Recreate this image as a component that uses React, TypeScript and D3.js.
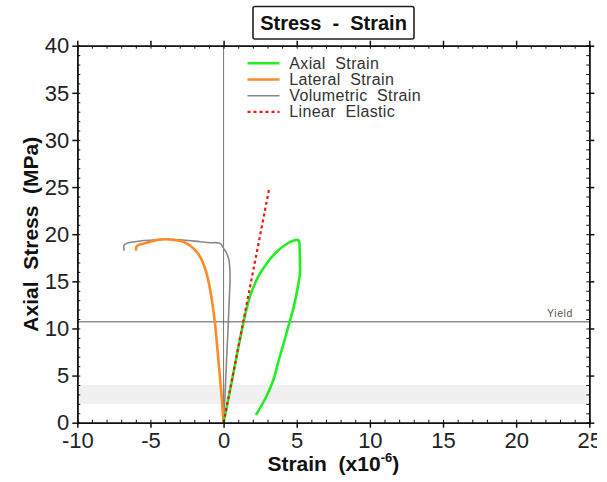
import { useEffect, useRef } from 'react';
import * as d3 from 'd3';

// Axial strain curve (x10^-6, MPa)
const axialX = [0, 0.35, 0.7, 1.05, 1.35, 1.8, 2.37, 2.95, 3.63, 4.31, 4.75, 5.0, 5.15, 5.2, 5.22, 5.22, 5.0, 4.75, 4.49, 4.04, 3.75, 3.4, 2.9, 2.21];
const axialY = [0, 2.7, 5.5, 8.3, 10.55, 13.37, 15.5, 16.9, 18.14, 18.96, 19.3, 19.4, 19.3, 18.5, 17.0, 15.85, 13.8, 12.0, 10.55, 8.06, 6.5, 4.53, 2.7, 0.82];

const lateralX = [0, -0.12, -0.26, -0.42, -0.59, -0.85, -1.16, -1.5, -1.84, -2.3, -2.75, -3.4, -4.0, -4.5, -5.03, -5.5, -5.9, -5.97, -5.99];
const lateralY = [0, 2.5, 5, 7.8, 10.55, 13.5, 15.85, 17.3, 18.14, 18.8, 19.2, 19.4, 19.46, 19.4, 19.2, 19.0, 18.78, 18.6, 18.25];

const volumetricX = [0, 0.1, 0.2, 0.32, 0.4, 0.44, 0.42, 0.36, 0.21, 0, -0.25, -0.93, -1.6, -2.75, -3.89, -4.8, -5.71, -6.62, -6.8, -6.8];
const volumetricY = [0, 3, 6.5, 10.55, 13.5, 15.1, 16.5, 17.3, 17.97, 18.5, 19.03, 19.1, 19.2, 19.38, 19.46, 19.38, 19.28, 19.03, 18.85, 18.25];

const linearX = [0, 3.1];
const linearY = [0, 24.7];

const yieldStress = 10.7;
const bandRange = [2, 4];

const xTicks = [-10, -5, 0, 5, 10, 15, 20, 25];
const yTicks = [0, 5, 10, 15, 20, 25, 30, 35, 40];

const legendItems = ['Axial  Strain', 'Lateral  Strain', 'Volumetric  Strain', 'Linear  Elastic'];

const StressStrain = () => {
    const ref = useRef<SVGSVGElement>(null);

    useEffect(() => {
        if (!ref.current) return;
        const width = 607;
        const height = 482;
        const left = 77.3, right = 589.3, top = 45.7, bottom = 422.7;
        const font = "'Liberation Sans', Arial, sans-serif";

        const svg = d3.select(ref.current)
            .attr('width', width)
            .attr('height', height);
        svg.selectAll('*').remove();

        svg.append('defs').append('clipPath').attr('id', 'pageClip')
            .append('rect').attr('x', 0).attr('y', 0).attr('width', 597).attr('height', height);
        svg.append('defs').append('clipPath').attr('id', 'plotClip')
            .append('rect').attr('x', left).attr('y', top).attr('width', right - left).attr('height', bottom - top);

        const x = d3.scaleLinear().domain([-10, 25]).range([left, right]);
        const y = d3.scaleLinear().domain([0, 40]).range([bottom, top]);

        const root = svg.append('g').attr('clip-path', 'url(#pageClip)');

        root.append('rect').attr('width', width).attr('height', height).attr('fill', '#fff');

        // grey band
        root.append('rect')
            .attr('x', left).attr('width', right - left)
            .attr('y', y(bandRange[1])).attr('height', y(bandRange[0]) - y(bandRange[1]))
            .attr('fill', '#f0f0f0');

        // zero line and yield line
        root.append('line')
            .attr('x1', x(0)).attr('x2', x(0)).attr('y1', top).attr('y2', bottom)
            .attr('stroke', '#777').attr('stroke-width', 1);
        root.append('line')
            .attr('x1', left).attr('x2', right).attr('y1', y(yieldStress)).attr('y2', y(yieldStress))
            .attr('stroke', '#555').attr('stroke-width', 1);
        root.append('text')
            .attr('x', 573).attr('y', y(yieldStress) - 5)
            .attr('text-anchor', 'end')
            .attr('font-family', font).attr('font-size', 10.5).attr('fill', '#555')
            .attr('letter-spacing', 0.6)
            .text('Yield');

        const line = d3.line<[number, number]>()
            .x(d => x(d[0]))
            .y(d => y(d[1]))
            .curve(d3.curveCatmullRom);

        const plot = root.append('g').attr('clip-path', 'url(#plotClip)');
        const series = [
            { xs: volumetricX, ys: volumetricY, color: '#888888', w: 1.6, dash: null },
            { xs: lateralX, ys: lateralY, color: '#ff8a2a', w: 2.6, dash: null },
            { xs: axialX, ys: axialY, color: '#22ee22', w: 2.6, dash: null },
            { xs: linearX, ys: linearY, color: '#ff1010', w: 2.2, dash: '3,3' },
        ];
        series.forEach(s => {
            plot.append('path')
                .datum(s.xs.map((v, i) => [v, s.ys[i]] as [number, number]))
                .attr('d', line)
                .attr('fill', 'none')
                .attr('stroke', s.color)
                .attr('stroke-width', s.w)
                .attr('stroke-dasharray', s.dash)
                .attr('stroke-linejoin', 'round');
        });

        // legend
        const legendColors = ['#22ee22', '#ff8a2a', '#888888', '#ff1010'];
        const legendWidths = [2.6, 2.6, 1.6, 2.2];
        const legend = root.append('g');
        legendItems.forEach((label, i) => {
            const ly = 63.3 + i * 16.2;
            legend.append('line')
                .attr('x1', 247.5).attr('x2', 279.5).attr('y1', ly).attr('y2', ly)
                .attr('stroke', legendColors[i]).attr('stroke-width', legendWidths[i])
                .attr('stroke-dasharray', i === 3 ? '3,3' : null);
            legend.append('text')
                .attr('x', 289.3).attr('y', ly + 5.5)
                .attr('font-family', font).attr('font-size', 16).attr('fill', '#333')
                .attr('letter-spacing', 0.35)
                .style('white-space', 'pre')
                .text(label);
        });

        // axes
        const axisStyle = (g: d3.Selection<SVGGElement, unknown, null, undefined>) => {
            g.selectAll('.domain').attr('stroke', '#111').attr('stroke-width', 1.5);
            g.selectAll('.tick line').attr('stroke', '#111').attr('stroke-width', 1.5);
            g.selectAll('.tick text').attr('font-family', font).attr('font-size', 22).attr('fill', '#222');
        };
        const minorX = d3.range(-10, 26, 1);
        const minorY = d3.range(0, 41, 1);

        root.append('g').attr('transform', `translate(0,${bottom})`)
            .call(d3.axisBottom(x).tickValues(minorX).tickSize(-3).tickFormat(() => ''))
            .call(axisStyle).call(g => g.selectAll('.tick line').attr('stroke-width', 1));
        root.append('g').attr('transform', `translate(0,${top})`)
            .call(d3.axisTop(x).tickValues(minorX).tickSize(-3).tickFormat(() => ''))
            .call(axisStyle).call(g => g.selectAll('.tick line').attr('stroke-width', 1));
        root.append('g').attr('transform', `translate(${left},0)`)
            .call(d3.axisLeft(y).tickValues(minorY).tickSize(-3).tickFormat(() => ''))
            .call(axisStyle).call(g => g.selectAll('.tick line').attr('stroke-width', 1));
        root.append('g').attr('transform', `translate(${right},0)`)
            .call(d3.axisRight(y).tickValues(minorY).tickSize(-3).tickFormat(() => ''))
            .call(axisStyle).call(g => g.selectAll('.tick line').attr('stroke-width', 1));

        root.append('g').attr('transform', `translate(0,${bottom})`)
            .call(d3.axisBottom(x).tickValues(xTicks).tickSize(5).tickSizeOuter(0).tickPadding(5).tickFormat(d => String(d)))
            .call(axisStyle);
        root.append('g').attr('transform', `translate(0,${top})`)
            .call(d3.axisTop(x).tickValues(xTicks).tickSize(5).tickSizeOuter(0).tickFormat(() => ''))
            .call(axisStyle);
        root.append('g').attr('transform', `translate(${left},0)`)
            .call(d3.axisLeft(y).tickValues(yTicks).tickSize(5).tickSizeOuter(0).tickPadding(3).tickFormat(d => String(d)))
            .call(axisStyle)
            .call(g => g.selectAll('.tick text').attr('dy', '0.33em'));
        root.append('g').attr('transform', `translate(${right},0)`)
            .call(d3.axisRight(y).tickValues(yTicks).tickSize(5).tickSizeOuter(0).tickFormat(() => ''))
            .call(axisStyle);

        // title box
        root.append('rect')
            .attr('x', 253).attr('y', 6.5).attr('width', 161).attr('height', 32.5)
            .attr('rx', 2).attr('fill', '#fff').attr('stroke', '#222').attr('stroke-width', 1.6);
        root.append('text')
            .attr('x', 333.5).attr('y', 30)
            .attr('text-anchor', 'middle')
            .attr('font-family', font).attr('font-weight', 'bold').attr('font-size', 20).attr('fill', '#111')
            .style('white-space', 'pre')
            .text('Stress  -  Strain');

        // axis titles
        root.append('text')
            .attr('transform', `translate(38,${(top + bottom) / 2}) rotate(-90)`)
            .attr('text-anchor', 'middle')
            .attr('font-family', font).attr('font-weight', 'bold').attr('font-size', 21).attr('fill', '#111')
            .style('white-space', 'pre')
            .text('Axial  Stress  (MPa)');

        const xl = root.append('text')
            .attr('x', (left + right) / 2).attr('y', 471)
            .attr('text-anchor', 'middle')
            .attr('font-family', font).attr('font-weight', 'bold').attr('font-size', 21).attr('fill', '#111')
            .style('white-space', 'pre');
        xl.append('tspan').text('Strain  (x10');
        xl.append('tspan').attr('font-size', 13).attr('dy', -9).text('-6');
        xl.append('tspan').attr('dy', 9).text(')');
    }, []);

    return <svg ref={ref} style={{ position: 'absolute', left: 0, top: 0 }} />;
};

export default function App() {
    return <StressStrain />;
}
